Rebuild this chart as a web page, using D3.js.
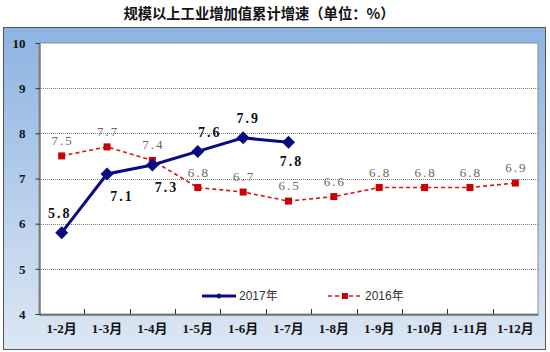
<!DOCTYPE html>
<html>
<head>
<meta charset="utf-8">
<script src="https://cdn.jsdelivr.net/npm/d3@7"></script>
<style>
  body { margin: 0; background: #fff; }
</style>
</head>
<body>
<div class="chart"></div>
<script>
const months = ["1-2月", "1-3月", "1-4月", "1-5月", "1-6月", "1-7月", "1-8月", "1-9月", "1-10月", "1-11月", "1-12月"];
const growth2017 = [5.8, 7.1, 7.3, 7.6, 7.9, 7.8];
const growth2016 = [7.5, 7.7, 7.4, 6.8, 6.7, 6.5, 6.6, 6.8, 6.8, 6.8, 6.9];
const yTicks = [4, 5, 6, 7, 8, 9, 10];
const seriesNames = ["2017年", "2016年"];

// label offsets (dx, dy) relative to the point, as placed in the original
const offs2017 = [[-2, -20], [15, 22], [14, 22], [12, -19], [5, -20], [3, 19]];

function drawChart() {
    const width = 550, height = 352;
    const plot = { left: 39, right: 538, top: 43, bottom: 314 };

    const svg = d3.select(".chart").append("svg")
        .attr("width", width)
        .attr("height", height);

    const defs = svg.append("defs");
    const grad = defs.append("linearGradient")
        .attr("id", "bg")
        .attr("x1", 0).attr("y1", 0).attr("x2", 0).attr("y2", 1);
    grad.append("stop").attr("offset", "0%").attr("stop-color", "#8cb3e2");
    grad.append("stop").attr("offset", "100%").attr("stop-color", "#dde7f3");

    // title
    svg.append("text")
        .attr("x", 259).attr("y", 19)
        .attr("text-anchor", "middle")
        .style("font-family", "'Noto Sans CJK SC', sans-serif")
        .style("font-weight", "bold")
        .style("font-size", "14.3px")
        .attr("fill", "#111")
        .text("规模以上工业增加值累计增速（单位：%）");

    // frame
    svg.append("rect")
        .attr("x", 3.5).attr("y", 27.5)
        .attr("width", 542).attr("height", 322)
        .attr("fill", "url(#bg)")
        .attr("stroke", "#555");

    svg.append("rect")
        .attr("x", plot.left).attr("y", plot.top)
        .attr("width", plot.right - plot.left).attr("height", plot.bottom - plot.top)
        .attr("fill", "#fff")
        .attr("stroke", "#8c8c8c");

    const x = d3.scaleBand().domain(months).range([plot.left, plot.right]).padding(0);
    const y = d3.scaleLinear().domain([4, 10]).range([plot.bottom, plot.top]);
    const cx = d => x(d) + x.bandwidth() / 2;

    // grid
    svg.append("g")
        .selectAll("line")
        .data(yTicks.filter(t => t > 4 && t < 10))
        .enter()
        .append("line")
            .attr("x1", plot.left).attr("x2", plot.right)
            .attr("y1", d => Math.round(y(d)) + 0.5).attr("y2", d => Math.round(y(d)) + 0.5)
            .attr("stroke", "#777")
            .attr("stroke-dasharray", "1,1");

    // y axis
    const yAxis = svg.append("g")
        .attr("transform", `translate(${plot.left + 0.5},0)`)
        .call(d3.axisLeft(y).tickValues(yTicks).tickFormat(d3.format("d"))
            .tickSize(4).tickSizeOuter(0).tickPadding(10));
    yAxis.select(".domain").attr("stroke", "#333");
    yAxis.selectAll(".tick line").attr("stroke", "#333");
    yAxis.selectAll("text")
        .style("font-family", "'Liberation Serif', serif")
        .style("font-weight", "bold")
        .style("font-size", "13px")
        .attr("fill", "#111");

    // x axis
    const xAxis = svg.append("g")
        .attr("transform", `translate(0,${plot.bottom + 0.5})`)
        .call(d3.axisBottom(x).tickSize(0).tickPadding(9));
    xAxis.select(".domain").attr("stroke", "#333");
    xAxis.selectAll("text")
        .style("font-family", "'Liberation Serif', 'Noto Sans CJK SC', serif")
        .style("font-weight", "bold")
        .style("font-size", "13px")
        .attr("fill", "#111");
    svg.append("g")
        .selectAll("line")
        .data(months.slice(1))
        .enter()
        .append("line")
            .attr("x1", d => Math.round(x(d)) + 0.5).attr("x2", d => Math.round(x(d)) + 0.5)
            .attr("y1", plot.bottom).attr("y2", plot.bottom - 5)
            .attr("stroke", "#333");

    // 2016 series
    const red = "#dd1111";
    const line = d3.line().x((d, i) => cx(months[i])).y(d => y(d));
    svg.append("path")
        .datum(growth2016)
        .attr("d", line)
        .attr("fill", "none")
        .attr("stroke", red)
        .attr("stroke-width", 1.6)
        .attr("stroke-dasharray", "4,3");
    svg.append("g")
        .selectAll("rect")
        .data(growth2016)
        .enter()
        .append("rect")
            .attr("x", (d, i) => cx(months[i]) - 3.5)
            .attr("y", d => y(d) - 3.5)
            .attr("width", 7).attr("height", 7)
            .attr("fill", "#cc0000");
    svg.append("g")
        .selectAll("text")
        .data(growth2016)
        .enter()
        .append("text")
            .attr("x", (d, i) => cx(months[i]) + 1)
            .attr("y", d => y(d) - 11)
            .attr("text-anchor", "middle")
            .style("font-family", "'Liberation Serif', serif")
            .style("font-size", "13px")
            .style("letter-spacing", "2px")
            .attr("fill", "#666")
            .text(d => d.toFixed(1));

    // 2017 series
    const navy = "#0a0a84";
    const diamond = "M0,-6.5L6.5,0L0,6.5L-6.5,0Z";
    svg.append("path")
        .datum(growth2017)
        .attr("d", line)
        .attr("fill", "none")
        .attr("stroke", navy)
        .attr("stroke-width", 3);
    svg.append("g")
        .selectAll("path")
        .data(growth2017)
        .enter()
        .append("path")
            .attr("transform", (d, i) => `translate(${cx(months[i])},${y(d)})`)
            .attr("d", diamond)
            .attr("fill", navy);
    svg.append("g")
        .selectAll("text")
        .data(growth2017)
        .enter()
        .append("text")
            .attr("x", (d, i) => cx(months[i]) + offs2017[i][0])
            .attr("y", (d, i) => y(d) + offs2017[i][1] + 5)
            .attr("text-anchor", "middle")
            .style("font-family", "'Liberation Serif', serif")
            .style("font-weight", "bold")
            .style("font-size", "14px")
            .style("letter-spacing", "2px")
            .attr("fill", "#111")
            .text(d => d.toFixed(1));

    // legend
    const legend = svg.append("g").attr("transform", "translate(0,296)");
    const leg = [
        { name: seriesNames[0], x0: 202, color: navy, dash: null, w: 3 },
        { name: seriesNames[1], x0: 328, color: red, dash: "4,3", w: 1.6 }
    ];
    leg.forEach((l, i) => {
        legend.append("line")
            .attr("x1", l.x0).attr("x2", l.x0 + 34)
            .attr("stroke", l.color)
            .attr("stroke-width", l.w)
            .attr("stroke-dasharray", l.dash);
        if (i === 0) {
            legend.append("path")
                .attr("transform", `translate(${l.x0 + 17},0)`)
                .attr("d", "M0,-3L3,0L0,3L-3,0Z")
                .attr("fill", navy);
        } else {
            legend.append("rect")
                .attr("x", l.x0 + 14).attr("y", -3)
                .attr("width", 6).attr("height", 6)
                .attr("fill", "#cc0000");
        }
        legend.append("text")
            .attr("x", l.x0 + 37).attr("y", 4)
            .style("font-family", "'Liberation Sans', 'Noto Sans CJK SC', sans-serif")
            .style("font-size", "12px")
            .attr("fill", "#333")
            .text(l.name);
    });
}

drawChart();
</script>
</body>
</html>
